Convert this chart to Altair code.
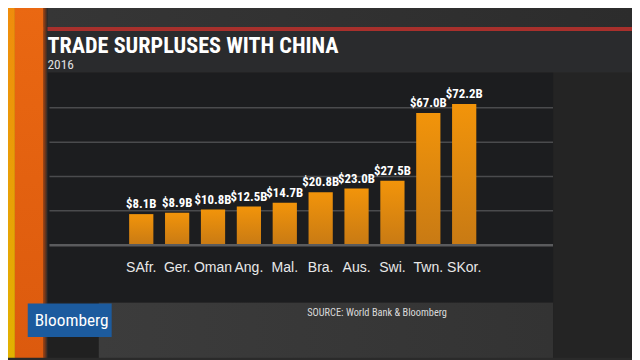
import altair as alt
import pandas as pd

# ---- data ----
countries = ["SAfr.", "Ger.", "Oman", "Ang.", "Mal.", "Bra.", "Aus.", "Swi.", "Twn.", "SKor."]
surplus = [8.1, 8.9, 10.8, 12.5, 14.7, 20.8, 23.0, 27.5, 67.0, 72.2]
value_labels = ["$8.1B", "$8.9B", "$10.8B", "$12.5B", "$14.7B", "$20.8B", "$23.0B", "$27.5B", "$67.0B", "$72.2B"]
grid_values = [10, 30, 50, 70]
baseline_value = [-10]
title_text = "TRADE SURPLUSES WITH CHINA"
subtitle_text = "2016"
source_text = "SOURCE: World Bank & Bloomberg"
logo_text = "Bloomberg"

df = pd.DataFrame({"country": countries, "surplus": surplus, "label": value_labels})
grid_df = pd.DataFrame({"g": grid_values})
base_df = pd.DataFrame({"b": baseline_value})
one = pd.DataFrame({"k": [0]})

W, H = 510, 174
NARROW = "Liberation Sans Narrow, Roboto Condensed, Liberation Sans, Arial, sans-serif"
SANS = "Liberation Sans, Arial, Helvetica, sans-serif"

yscale = alt.Scale(domain=[-10, 90], nice=False, zero=False)
xscale = alt.Scale(range=[80.7, 432.3], paddingInner=0.325, paddingOuter=0)


def panel(x, x2, y, y2, color):
    return alt.Chart(one).mark_rect(color=color).encode(
        x=alt.value(x), x2=alt.value(x2), y=alt.value(y), y2=alt.value(y2)
    )


def vgrad(c1, c2):
    return alt.LinearGradient(
        gradient="linear", x1=0, y1=0, x2=0, y2=1,
        stops=[alt.GradientStop(color=c1, offset=0), alt.GradientStop(color=c2, offset=1)],
    )


def hgrad(c1, c2):
    return alt.LinearGradient(
        gradient="linear", x1=0, y1=0, x2=1, y2=0,
        stops=[alt.GradientStop(color=c1, offset=0), alt.GradientStop(color=c2, offset=1)],
    )


decor = [
    panel(-2, 590, -72, -47, hgrad("#363636", "#2c2c2c")),      # top strip
    panel(-6, 590, -47, -43, "#a8302c"),                         # red rule
    panel(-4, 590, -43, -1, "#2a2b2d"),                          # title box
    panel(510, 590, -1, 288, "#242424"),                         # right panel
    panel(-2, 50, 232, 288, "#202020"),                          # bottom left
    panel(50, 510, 232, 288, hgrad("#3c3c3c", "#333333")),       # bottom band
    panel(-2, 510, -1, 232, "#1c1d1f"),                          # chart panel
    panel(-50, -35, -72, 288, vgrad("#f08c0c", "#e2b200")),      # yellow/orange stripe
    panel(-35, -6, -72, 288, vgrad("#ea6812", "#dc5a0e")),       # red-orange stripe
    panel(-6, -2, -72, 288, hgrad("#a04010", "#2a2a2a")),        # shadow
    panel(-22, 63, 233, 267, "#1c5b9e"),                         # logo box
]

texts = [
    alt.Chart(one).mark_text(text=title_text, font=NARROW, fontSize=22.5, fontWeight="bold",
                             color="#ffffff", align="left", baseline="alphabetic").encode(
        x=alt.value(-2), y=alt.value(-21)),
    alt.Chart(one).mark_text(text=subtitle_text, font=NARROW, fontSize=13.5,
                             color="#e0e0e0", align="left", baseline="alphabetic").encode(
        x=alt.value(-2), y=alt.value(-4.5)),
    alt.Chart(one).mark_text(text=logo_text, font=NARROW, fontSize=17.5, fontWeight="normal",
                             color="#ffffff", align="left", baseline="middle").encode(
        x=alt.value(-15), y=alt.value(251)),
    alt.Chart(one).mark_text(text=source_text, font=NARROW, fontSize=10.5,
                             color="#dadada", align="left", baseline="middle").encode(
        x=alt.value(261), y=alt.value(243)),
]

grid = alt.Chart(grid_df).mark_rule(color="#4a4b4d", strokeWidth=1.5).encode(
    y=alt.Y("g:Q", scale=yscale, axis=None)
)

baseline = alt.Chart(base_df).mark_rule(color="#5a5b5d", strokeWidth=2.5).encode(
    y=alt.Y("b:Q", scale=yscale, axis=None)
)

bars = alt.Chart(df).mark_bar(color=vgrad("#f2940a", "#c87a14")).encode(
    x=alt.X("country:N", sort=countries, scale=xscale,
            axis=alt.Axis(title=None, labelAngle=0, labelFont=SANS, labelFontSize=14.2,
                          labelColor="#e8e8e8", labelPadding=16, ticks=False,
                          domain=False, labelOverlap=False,
                          labelLimit=0, zindex=1)),
    y=alt.Y("surplus:Q", scale=yscale, axis=None),
    y2=alt.datum(-10),
)

labels = alt.Chart(df).mark_text(font=NARROW, fontSize=13, fontWeight="bold", color="#ffffff",
                                 baseline="bottom", dy=-3).encode(
    x=alt.X("country:N", sort=countries, scale=xscale),
    y=alt.Y("surplus:Q", scale=yscale),
    text="label:N",
)

chart = alt.layer(*decor, grid, bars, baseline, labels, *texts).properties(
    width=W, height=H,
    autosize=alt.AutoSizeParams(type="none"),
    padding={"left": 42, "top": 64, "right": 80, "bottom": 114},
    background="#2a2a2a",
).configure_view(stroke=None)

chart.save("out.html", embed_options={"renderer": "svg", "actions": False})
